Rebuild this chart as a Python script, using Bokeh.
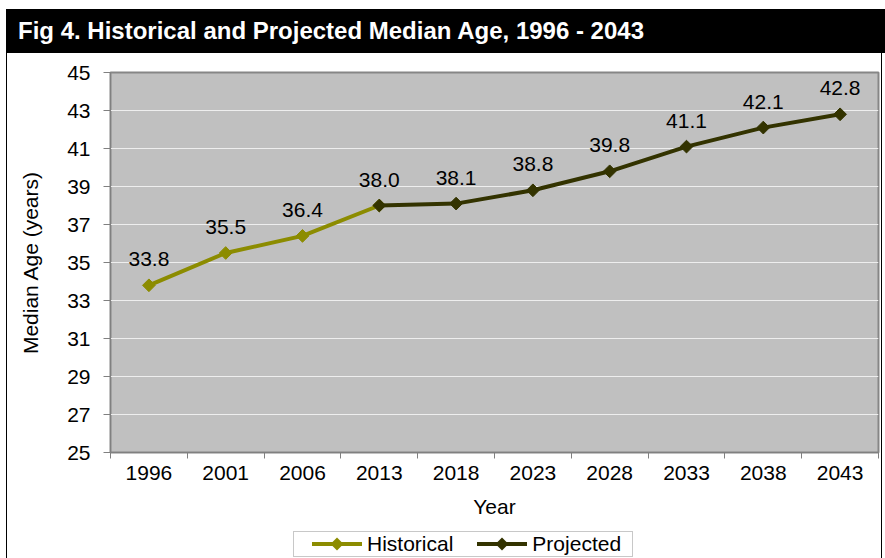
from bokeh.plotting import figure
from bokeh.models import Range1d, FixedTicker, ColumnDataSource, Div
from bokeh.layouts import column
from bokeh.core.properties import value
from bokeh.embed import file_html
from bokeh.resources import INLINE
import math

# ---------------- data ----------------
years = ["1996", "2001", "2006", "2013", "2018", "2023", "2028", "2033", "2038", "2043"]
median_age = [33.8, 35.5, 36.4, 38.0, 38.1, 38.8, 39.8, 41.1, 42.1, 42.8]
historical_years = ["1996", "2001", "2006", "2013"]
historical_ages = [33.8, 35.5, 36.4, 38.0]
projected_years = ["2013", "2018", "2023", "2028", "2033", "2038", "2043"]
projected_ages = [38.0, 38.1, 38.8, 39.8, 41.1, 42.1, 42.8]
y_ticks = [25, 27, 29, 31, 33, 35, 37, 39, 41, 43, 45]
series_names = ["Historical", "Projected"]

title_text = "Fig 4. Historical and Projected Median Age, 1996 - 2043"
x_title = "Year"
y_title = "Median Age (years)"

FONT = "Liberation Sans"
FS = "21px"
HIST_COLOR = "#8C8C00"
PROJ_COLOR = "#333300"
SHADOW = "-1px 0 0 0 #000000, 1px 0 0 0 #000000"

# category centre positions on a numeric axis (boundaries at integers)
pos = {y: i + 0.5 for i, y in enumerate(years)}
centers = [pos[y] for y in years]
bounds = list(range(len(years) + 1))

hist_src = ColumnDataSource(dict(x=[pos[y] for y in historical_years], y=historical_ages))
proj_src = ColumnDataSource(dict(x=[pos[y] for y in projected_years], y=projected_ages))
lbl_src = ColumnDataSource(dict(x=centers, y=median_age,
                                lbl=["%.1f" % v for v in median_age]))

# ---------------- title bar ----------------
div = Div(text=title_text, width=879, height=44, margin=(9, 0, 0, 6),
          styles={"background-color": "#000000", "color": "#ffffff",
                  "font-family": "'Liberation Sans', Arial, sans-serif",
                  "font-weight": "bold", "font-size": "24px",
                  "line-height": "44px", "text-indent": "12px",
                  "white-space": "nowrap", "overflow": "hidden"})

# ---------------- figure ----------------
p = figure(width=874, height=474, output_backend="svg", toolbar_location=None,
           x_range=Range1d(0, len(years)), y_range=Range1d(25, 45),
           min_border_left=103, min_border_right=3, min_border_top=19,
           min_border_bottom=75, margin=(0, 0, 0, 7),
           styles={"box-shadow": SHADOW})
p.background_fill_color = "#C0C0C0"
p.border_fill_color = "#FFFFFF"
p.outline_line_color = "#868686"
p.outline_line_width = 2

# y axis
p.yaxis.ticker = FixedTicker(ticks=y_ticks)
p.yaxis.axis_label = y_title
p.yaxis.axis_label_text_font = FONT
p.yaxis.axis_label_text_font_size = FS
p.yaxis.axis_label_text_font_style = "normal"
p.yaxis.axis_label_text_color = "#000000"
p.yaxis.axis_label_standoff = 22
p.yaxis.major_label_text_font = FONT
p.yaxis.major_label_text_font_size = FS
p.yaxis.major_label_text_color = "#000000"
p.yaxis.major_label_standoff = 13
p.yaxis.major_tick_out = 7
p.yaxis.major_tick_in = 0
p.yaxis.minor_tick_line_color = None
p.yaxis.axis_line_color = "#808080"
p.yaxis.major_tick_line_color = "#808080"

# x axis: labels at category centres, ticks at category boundaries
p.xaxis.ticker = FixedTicker(ticks=centers, minor_ticks=bounds)
p.xaxis.major_label_overrides = {c: y for c, y in zip(centers, years)}
p.xaxis.axis_label = x_title
p.xaxis.axis_label_text_font = FONT
p.xaxis.axis_label_text_font_size = FS
p.xaxis.axis_label_text_font_style = "normal"
p.xaxis.axis_label_text_color = "#000000"
p.xaxis.axis_label_standoff = 12
p.xaxis.major_label_text_font = FONT
p.xaxis.major_label_text_font_size = FS
p.xaxis.major_label_text_color = "#000000"
p.xaxis.major_label_standoff = 7
p.xaxis.major_tick_line_color = None
p.xaxis.major_tick_out = 6
p.xaxis.major_tick_in = 0
p.xaxis.minor_tick_line_color = "#808080"
p.xaxis.minor_tick_out = 6
p.xaxis.minor_tick_in = 0
p.xaxis.axis_line_color = "#808080"

p.xgrid.grid_line_color = None
p.ygrid.grid_line_color = "#EEEEEE"
p.ygrid.grid_line_width = 1

# lines and markers
p.line("x", "y", source=hist_src, line_color=HIST_COLOR, line_width=4)
p.scatter("x", "y", source=hist_src, marker="square", angle=math.pi / 4,
          size=9, fill_color=HIST_COLOR, line_color=HIST_COLOR)
p.line("x", "y", source=proj_src, line_color=PROJ_COLOR, line_width=4)
p.scatter("x", "y", source=proj_src, marker="square", angle=math.pi / 4,
          size=9, fill_color=PROJ_COLOR, line_color=PROJ_COLOR)

# value labels
p.text("x", "y", text="lbl", source=lbl_src, text_font=value(FONT),
       text_font_size=FS, text_color="#000000", text_align="center",
       text_baseline="bottom", y_offset=-19)

# ---------------- legend (below the chart) ----------------
def legend_key(color, extra_style=""):
    return ('<svg width="50" height="14" style="flex:none;%s">'
            '<line x1="0" y1="7" x2="50" y2="7" stroke="%s" stroke-width="4"/>'
            '<polygon points="25,0.5 31.5,7 25,13.5 18.5,7" fill="%s"/></svg>'
            % (extra_style, color, color))

legend_html = (
    '<div style="position:absolute;left:286px;top:4px;width:340px;height:26px;'
    'box-sizing:border-box;border:1px solid #C8C8C8;background:#FFFFFF;'
    'display:flex;align-items:center;padding-left:18px;'
    "font-family:'Liberation Sans',Arial,sans-serif;font-size:21px;color:#000000;"
    'white-space:nowrap;">'
    + legend_key(HIST_COLOR)
    + '<span style="margin-left:5px">%s</span>' % series_names[0]
    + legend_key(PROJ_COLOR, "margin-left:24px")
    + '<span style="margin-left:5px">%s</span>' % series_names[1]
    + '</div>'
)
legend_div = Div(text=legend_html, width=874, height=31, margin=(0, 0, 0, 7),
                 styles={"box-shadow": SHADOW, "background-color": "#FFFFFF",
                         "position": "relative", "overflow": "visible"})

layout = column(div, p, legend_div, spacing=0)

with open("out.html", "w") as f:
    f.write(file_html(layout, INLINE))
